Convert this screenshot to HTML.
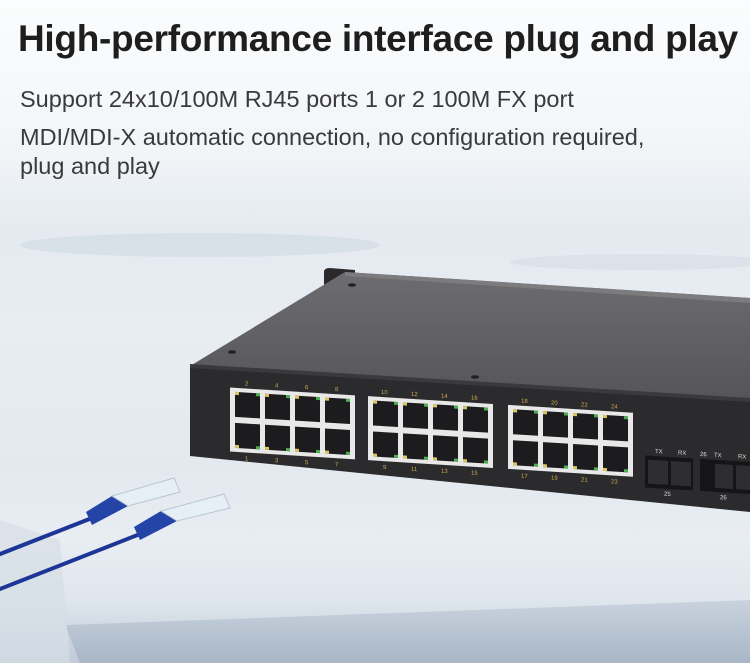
<!DOCTYPE html>
<html><head><meta charset="utf-8"><style>
html,body{margin:0;padding:0;width:750px;height:663px;overflow:hidden;background:#fff}
.wrap{position:relative;width:750px;height:663px;background:linear-gradient(180deg,#fbfcfd 0px,#f2f5f8 150px,#e4eaf0 230px,#e8edf2 330px,#e3e9ef 470px,#e8edf2 540px,#dfe6ed 600px,#bfcbd7 663px)}
.t{position:absolute;left:20px;font-family:"Liberation Sans",sans-serif;color:#222}
h1{position:absolute;left:18px;top:18px;margin:0;font:bold 37px "Liberation Sans",sans-serif;color:#1e1e1e;letter-spacing:-0.3px}
.s{font-size:23.5px;color:#3a3a3a;line-height:29px}
svg{position:absolute;left:0;top:0}
</style></head><body><div class="wrap">
<svg width="750" height="663" viewBox="0 0 750 663">
<defs>
<linearGradient id="top" x1="0" y1="0" x2="0" y2="1"><stop offset="0" stop-color="#6d6d6f"/><stop offset="1" stop-color="#555557"/></linearGradient>
<linearGradient id="blk" x1="0" y1="0" x2="0" y2="1"><stop offset="0" stop-color="#c9d3de"/><stop offset="1" stop-color="#a8b6c6"/></linearGradient>
</defs>
<ellipse cx="200" cy="245" rx="180" ry="12" fill="#cfd9e3" opacity=".6"/>
<ellipse cx="640" cy="262" rx="130" ry="8" fill="#d3dce6" opacity=".6"/>
<polygon points="65,625 750,600 750,663 80,663" fill="url(#blk)"/>
<polygon points="0,520 60,540 70,663 0,663" fill="#d6dee6" opacity=".7"/>
<path d="M324,290 L324,272 Q324,268 330,268 L355,270 L355,290 Z" fill="#2a2a2c"/>
<polygon points="190,366 345,272 750,298 750,400" fill="url(#top)"/>
<polygon points="345,272 750,298 750,303 345,276" fill="#7c7c7e"/>
<ellipse cx="352" cy="285" rx="4" ry="1.8" fill="#222"/>
<ellipse cx="232" cy="352" rx="4" ry="1.8" fill="#222"/>
<ellipse cx="475" cy="377" rx="4" ry="1.8" fill="#222"/>
<polygon points="190,364 750,398 750,404 190,370" fill="#3a3a3c"/>
<polygon points="190,368 750,402 750,512 190,456" fill="#2b2b2d"/>
<g transform="matrix(1,0.0625,0,1,0,-11.875)" font-family="Liberation Sans,sans-serif" font-size="6" fill="#c8a552">
<g id="grp">
<rect x="230" y="385" width="125" height="64" fill="#e8e8e8"/>
<g fill="#1c1c1e">
<rect x="235" y="389" width="25" height="25"/><rect x="265" y="389" width="25" height="25"/><rect x="295" y="389" width="25" height="25"/><rect x="325" y="389" width="25" height="25"/>
<rect x="235" y="420" width="25" height="25"/><rect x="265" y="420" width="25" height="25"/><rect x="295" y="420" width="25" height="25"/><rect x="325" y="420" width="25" height="25"/>
</g>
<g fill="#d8c860"><rect x="235" y="389" width="4" height="3"/><rect x="265" y="389" width="4" height="3"/><rect x="295" y="389" width="4" height="3"/><rect x="325" y="389" width="4" height="3"/><rect x="235" y="442" width="4" height="3"/><rect x="265" y="442" width="4" height="3"/><rect x="295" y="442" width="4" height="3"/><rect x="325" y="442" width="4" height="3"/></g>
<g fill="#4caf50"><rect x="256" y="389" width="4" height="3"/><rect x="286" y="389" width="4" height="3"/><rect x="316" y="389" width="4" height="3"/><rect x="346" y="389" width="4" height="3"/><rect x="256" y="442" width="4" height="3"/><rect x="286" y="442" width="4" height="3"/><rect x="316" y="442" width="4" height="3"/><rect x="346" y="442" width="4" height="3"/></g>
</g>
<use href="#grp" x="138"/>
<use href="#grp" x="278"/>
<text x="245" y="382">2</text><text x="275" y="382">4</text><text x="305" y="382">6</text><text x="335" y="382">8</text>
<text x="245" y="457">1</text><text x="275" y="457">3</text><text x="305" y="457">5</text><text x="335" y="457">7</text>
<text x="381" y="382">10</text><text x="411" y="382">12</text><text x="441" y="382">14</text><text x="471" y="382">16</text>
<text x="383" y="457">9</text><text x="411" y="457">11</text><text x="441" y="457">13</text><text x="471" y="457">15</text>
<text x="521" y="382">18</text><text x="551" y="382">20</text><text x="581" y="382">22</text><text x="611" y="382">24</text>
<text x="521" y="457">17</text><text x="551" y="457">19</text><text x="581" y="457">21</text><text x="611" y="457">23</text>
<rect x="645" y="427" width="48" height="32" fill="#151517"/>
<rect x="648" y="431" width="20" height="24" fill="#2e2e30"/><rect x="671" y="431" width="20" height="24" fill="#2e2e30"/>
<rect x="700" y="427" width="50" height="32" fill="#151517"/>
<rect x="715" y="431" width="18" height="24" fill="#2e2e30"/><rect x="736" y="431" width="14" height="24" fill="#2e2e30"/>
<g fill="#ddd"><text x="655" y="424">TX</text><text x="678" y="424">RX</text><text x="700" y="424">26</text><text x="714" y="424">TX</text><text x="738" y="424">RX</text><text x="664" y="466">25</text><text x="720" y="466">26</text></g>
</g>
<g stroke-linecap="round">
<line x1="-5" y1="556" x2="92" y2="518" stroke="#1d3596" stroke-width="4"/>
<line x1="-5" y1="591" x2="140" y2="534" stroke="#1d3596" stroke-width="4"/>
</g>
<polygon points="86,512 112,496 128,506 92,525" fill="#2444a8"/>
<polygon points="112,496 174,478 180,492 128,506" fill="#e6eef6" stroke="#b8c6d6" stroke-width="1"/>
<polygon points="134,527 161,511 177,521 140,540" fill="#2444a8"/>
<polygon points="161,511 224,494 230,508 177,521" fill="#e6eef6" stroke="#b8c6d6" stroke-width="1"/>
</svg>
<h1>High-performance interface plug and play</h1>
<div class="t s" style="top:85px">Support 24x10/100M RJ45 ports 1 or 2 100M FX port</div>
<div class="t s" style="top:123px">MDI/MDI-X automatic connection, no configuration required,<br>plug and play</div>
</div></body></html>
